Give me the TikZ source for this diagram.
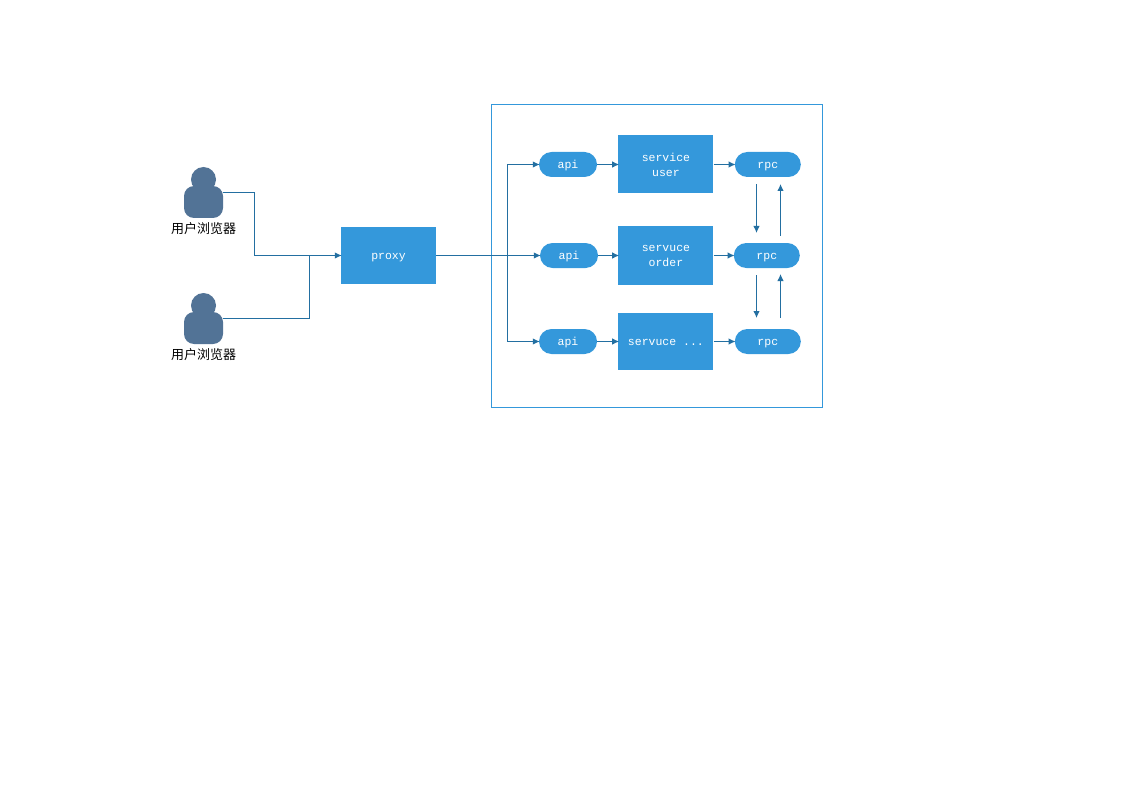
\documentclass[tikz,border=0pt]{standalone}
\usepackage{fontspec}
\setmonofont{Liberation Mono}
\newfontfamily\cjk{Noto Sans CJK SC}
\usetikzlibrary{positioning}
\usetikzlibrary{arrows.meta}
\definecolor{boxblue}{HTML}{3498DB}
\definecolor{linkblue}{HTML}{236FA1}
\definecolor{userblue}{HTML}{527396}

\begin{document}
\begin{tikzpicture}[
                          x=1pt, y=-1pt,
                          squarednode/.style={rectangle, fill=boxblue, text=white, font=\ttfamily\fontsize{11.5}{15}\selectfont, align=center, inner sep=0pt, minimum width=95pt, minimum height=58pt},
                          singlenode/.style={squarednode, minimum height=57pt, text height=10pt, text depth=2pt},
                          roundnode/.style={rectangle, rounded corners=12.5pt, fill=boxblue, text=white, font=\ttfamily\fontsize{11.5}{15}\selectfont, inner sep=0pt, minimum height=25pt, text height=10pt, text depth=2pt},
                          apinode/.style={roundnode, minimum width=58pt},
                          rpcnode/.style={roundnode, minimum width=66pt},
                          usernode/.style={rectangle, rounded corners=10pt, fill=userblue, inner sep=0pt, minimum width=39pt, minimum height=32pt},
                          headnode/.style={circle, fill=userblue, inner sep=0pt, minimum size=25pt},
                          usertext/.style={font=\cjk\fontsize{13}{15}\selectfont, inner sep=0pt},
                          link/.style={draw=linkblue, line width=1.1pt, shorten >=-1pt, -{Latex[length=7pt,width=6.5pt]}},
                          plainlink/.style={draw=linkblue, line width=1.1pt},
                      ]
                      \useasboundingbox (0,0) rectangle (1123,794);

                      % Nodes
                      \node[draw=boxblue, line width=1pt, inner sep=0pt, minimum width=331pt, minimum height=303pt] (cluster) at (657,256) {};

                      \node[headnode]   (head_1)   at (203.5,179.5) {};
                      \node[usernode]   (user_1)   at (203.5,202)   {};
                      \node[usertext]   (label_1)  at (203.5,229)   {用户浏览器};
                      \node[headnode]   (head_2)   at (203.5,305.5) {};
                      \node[usernode]   (user_2)   at (203.5,328)   {};
                      \node[usertext]   (label_2)  at (203.5,354.5) {用户浏览器};

                      \node[singlenode] (proxy)  at (388.5,255.5) {proxy};

                      \node[apinode]     (api_1)      at (568,164.5)          {api};
                      \node[squarednode] (service_1)  [right=21pt of api_1]   {service\\user};
                      \node[rpcnode]     (rpc_1)      [right=21pt of service_1] {rpc};

                      \node[apinode]     (api_2)      at (569,255.5)          {api};
                      \node[squarednode] (service_2)  [right=20pt of api_2]   {servuce\\order};
                      \node[rpcnode]     (rpc_2)      [right=20pt of service_2] {rpc};

                      \node[apinode]     (api_3)      at (568,341.5)          {api};
                      \node[singlenode]  (service_3)  [right=21pt of api_3]   {servuce ...};
                      \node[rpcnode]     (rpc_3)      [right=21pt of service_3] {rpc};

                      \coordinate (turn_1)   at (254.5,192.5);
                      \coordinate (turn_2)   at (309.5,318.5);
                      \coordinate (branch)   at (507.5,255.5);
                      \coordinate (down_1a)  at (756.5,184);
                      \coordinate (down_1b)  at (756.5,232);
                      \coordinate (up_1a)    at (780.5,236);
                      \coordinate (up_1b)    at (780.5,185);
                      \coordinate (down_2a)  at (756.5,275);
                      \coordinate (down_2b)  at (756.5,317);
                      \coordinate (up_2a)    at (780.5,318);
                      \coordinate (up_2b)    at (780.5,275);

                      %Lines
                      \draw[link] (user_1.east |- turn_1) -- (turn_1) |- (proxy.west);
                      \draw[plainlink] (user_2.east |- turn_2) -- (turn_2) -- (turn_2 |- proxy.west);
                      \draw[link] (proxy.east) -- (api_2.west);
                      \draw[link] (branch) |- (api_1.west);
                      \draw[link] (branch) |- (api_3.west);
                      \draw[link] (api_1.east) -- (service_1.west);
                      \draw[link] (api_2.east) -- (service_2.west);
                      \draw[link] (api_3.east) -- (service_3.west);
                      \draw[link] (service_1.east) -- (rpc_1.west);
                      \draw[link] (service_2.east) -- (rpc_2.west);
                      \draw[link] (service_3.east) -- (rpc_3.west);
                      \draw[link] (down_1a) -- (down_1b);
                      \draw[link] (up_1a) -- (up_1b);
                      \draw[link] (down_2a) -- (down_2b);
                      \draw[link] (up_2a) -- (up_2b);
                  \end{tikzpicture}
\end{document}
